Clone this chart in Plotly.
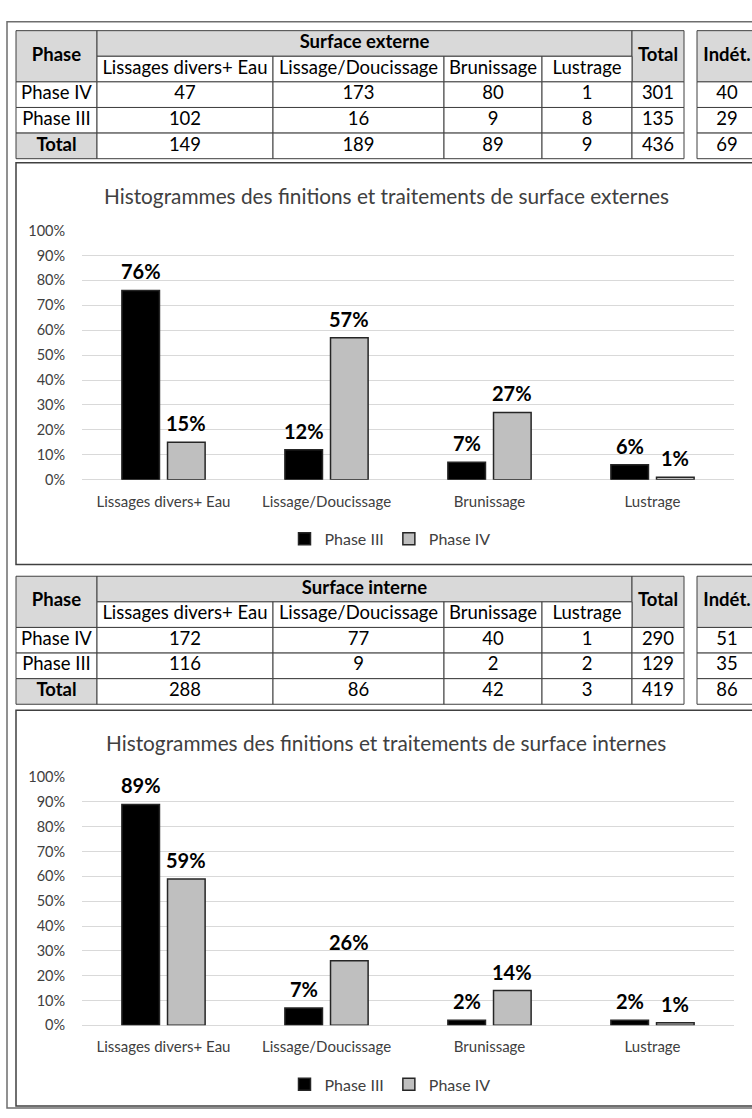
import plotly.graph_objects as go

W, H = 752, 1118

# ---------------- data ----------------
categories = ["Lissages divers+ Eau", "Lissage/Doucissage", "Brunissage", "Lustrage"]
row_labels = ["Phase IV", "Phase III", "Total"]
series_names = ["Phase III", "Phase IV"]
header_phase = "Phase"
header_total = "Total"
header_indet = "Indét."

# Surface externe table (rows: Phase IV, Phase III, Total)
ext_title = "Surface externe"
ext_lissages = [47, 102, 149]
ext_lissage_douc = [173, 16, 189]
ext_brunissage = [80, 9, 89]
ext_lustrage = [1, 8, 9]
ext_total = [301, 135, 436]
ext_indet = [40, 29, 69]

# Surface interne table
int_title = "Surface interne"
int_lissages = [172, 116, 288]
int_lissage_douc = [77, 9, 86]
int_brunissage = [40, 2, 42]
int_lustrage = [1, 2, 3]
int_total = [290, 129, 419]
int_indet = [51, 35, 86]

# Histogram percentages (as labelled on the bars)
ext_phase3 = [76, 12, 7, 6]
ext_phase4 = [15, 57, 27, 1]
int_phase3 = [89, 7, 2, 2]
int_phase4 = [59, 26, 14, 1]

y_tick_values = [0, 10, 20, 30, 40, 50, 60, 70, 80, 90, 100]
y_tick_labels = ["0%", "10%", "20%", "30%", "40%", "50%", "60%", "70%", "80%", "90%", "100%"]

title_ext = "Histogrammes des finitions et traitements de surface externes"
title_int = "Histogrammes des finitions et traitements de surface internes"

# ---------------- style / layout ----------------
FONT = "Lato"
GRAY = "#d9d9d9"
LINE = "#404040"
TXT = "#404040"
TABLE_FS = 18.5
col_edges = [16, 97, 273, 444, 542, 632, 684]
indet_edges = [697, 775]
ROW_H = 26

fig = go.Figure()
cell_shapes = []


def px(x):
    return x / W


def py(y):
    return 1 - y / H


def cell(x0, x1, y0, y1, fill):
    cell_shapes.append(dict(type="rect", xref="x3", yref="y3", x0=x0, x1=x1, y0=y0, y1=y1,
                            line=dict(color=LINE, width=1), fillcolor=fill, layer="below"))


def add_table(top, title, cols, total, indet):
    xs, ys, ts = [], [], []
    r = [top + i * ROW_H for i in range(6)]
    # Phase header (2 rows)
    cell(col_edges[0], col_edges[1], r[0], r[2], GRAY)
    xs.append((col_edges[0] + col_edges[1]) / 2); ys.append((r[0] + r[2]) / 2)
    ts.append("<b>" + header_phase + "</b>")
    # merged title
    cell(col_edges[1], col_edges[5], r[0], r[1], GRAY)
    xs.append((col_edges[1] + col_edges[5]) / 2); ys.append((r[0] + r[1]) / 2)
    ts.append("<b>" + title + "</b>")
    # Total / Indet headers
    cell(col_edges[5], col_edges[6], r[0], r[2], GRAY)
    xs.append((col_edges[5] + col_edges[6]) / 2); ys.append((r[0] + r[2]) / 2)
    ts.append("<b>" + header_total + "</b>")
    cell(indet_edges[0], indet_edges[1], r[0], r[2], GRAY)
    xs.append(indet_edges[0] + 30); ys.append((r[0] + r[2]) / 2)
    ts.append("<b>" + header_indet + "</b>")
    # sub headers
    for j, cat in enumerate(categories):
        a, b = col_edges[j + 1], col_edges[j + 2]
        cell(a, b, r[1], r[2], "white")
        xs.append((a + b) / 2); ys.append((r[1] + r[2]) / 2); ts.append(cat)
    # body rows
    for i, lab in enumerate(row_labels):
        y0, y1 = r[2 + i], r[3 + i]
        ym = (y0 + y1) / 2
        is_total = (i == len(row_labels) - 1)
        cell(col_edges[0], col_edges[1], y0, y1, GRAY if is_total else "white")
        xs.append((col_edges[0] + col_edges[1]) / 2); ys.append(ym)
        ts.append("<b>" + lab + "</b>" if is_total else lab)
        for j, col in enumerate(cols):
            a, b = col_edges[j + 1], col_edges[j + 2]
            cell(a, b, y0, y1, "white")
            xs.append((a + b) / 2); ys.append(ym); ts.append(str(col[i]))
        cell(col_edges[5], col_edges[6], y0, y1, "white")
        xs.append((col_edges[5] + col_edges[6]) / 2); ys.append(ym); ts.append(str(total[i]))
        cell(indet_edges[0], indet_edges[1], y0, y1, "white")
        xs.append(indet_edges[0] + 30); ys.append(ym); ts.append(str(indet[i]))
    fig.add_trace(go.Scatter(
        x=xs, y=ys, text=ts, mode="text", xaxis="x3", yaxis="y3",
        textposition="middle center", showlegend=False, hoverinfo="skip",
        textfont=dict(family=FONT, size=TABLE_FS, color="black"), cliponaxis=False,
    ))


# ---------------- charts ----------------
charts = [
    dict(xa="x", ya="y", p3=ext_phase3, p4=ext_phase4, legend="legend"),
    dict(xa="x2", ya="y2", p3=int_phase3, p4=int_phase4, legend="legend2"),
]
annotations = []
for ch in charts:
    for name, vals, color in [(series_names[0], ch["p3"], "black"),
                              (series_names[1], ch["p4"], "#bfbfbf")]:
        fig.add_trace(go.Bar(
            x=categories, y=vals, name=name, xaxis=ch["xa"], yaxis=ch["ya"],
            marker=dict(color=color, line=dict(color="#262626", width=1.5)),
            legend=ch["legend"], showlegend=True, hoverinfo="skip",
        ))
        offset = -22.75 if name == series_names[0] else 22.75
        for c, v in zip(categories, vals):
            annotations.append(dict(
                x=c, y=v, xref=ch["xa"], yref=ch["ya"], text="<b>%d%%</b>" % v,
                showarrow=False, xshift=offset, yshift=19, yanchor="middle",
                font=dict(family=FONT, size=20, color="black"),
            ))

add_table(22, ext_title, [ext_lissages, ext_lissage_douc, ext_brunissage, ext_lustrage],
          ext_total, ext_indet)
add_table(576, int_title, [int_lissages, int_lissage_douc, int_brunissage, int_lustrage],
          int_total, int_indet)

axis_common_x = dict(
    domain=[px(82), px(734)], showgrid=False, showline=False, zeroline=False,
    tickfont=dict(family=FONT, size=15, color=TXT), ticks="outside", ticklen=8,
    tickcolor="rgba(0,0,0,0)", fixedrange=True,
)
axis_common_y = dict(
    range=[0, 100], tickvals=y_tick_values, ticktext=y_tick_labels, showgrid=True,
    gridcolor="#d9d9d9", gridwidth=1, zeroline=True, zerolinecolor="#d9d9d9",
    zerolinewidth=1, showline=False,
    tickfont=dict(family=FONT, size=14.5, color=TXT), ticks="outside", ticklen=13,
    tickcolor="rgba(0,0,0,0)", fixedrange=True,
)
legend_common = dict(orientation="h", xanchor="center", yanchor="middle",
                     font=dict(family=FONT, size=16, color=TXT), bgcolor="rgba(0,0,0,0)",
                     itemwidth=30, tracegroupgap=0)

fig.update_layout(
    width=W, height=H, margin=dict(l=0, r=0, t=0, b=0, pad=0),
    paper_bgcolor="white", plot_bgcolor="rgba(0,0,0,0)",
    barmode="group", bargap=0.44, bargroupgap=0.176,
    xaxis=dict(**axis_common_x, anchor="y"),
    yaxis=dict(**axis_common_y, domain=[py(478), py(225)], anchor="x"),
    xaxis2=dict(**axis_common_x, anchor="y2"),
    yaxis2=dict(**axis_common_y, domain=[py(1032), py(780)], anchor="x2"),
    xaxis3=dict(domain=[0, 1], range=[0, W], visible=False, fixedrange=True, anchor="y3"),
    yaxis3=dict(domain=[0, 1], range=[H, 0], visible=False, fixedrange=True, anchor="x3"),
    legend=dict(**legend_common, x=px(390), y=py(538)),
    legend2=dict(**legend_common, x=px(390), y=py(1092)),
    showlegend=True,
)

annotations.append(dict(x=px(386), y=py(189), xref="paper", yref="paper", text=title_ext,
                        showarrow=False, font=dict(family=FONT, size=20.8, color=TXT),
                        xanchor="center", yanchor="middle"))
annotations.append(dict(x=px(386), y=py(745), xref="paper", yref="paper", text=title_int,
                        showarrow=False, font=dict(family=FONT, size=20.8, color=TXT),
                        xanchor="center", yanchor="middle"))
fig.update_layout(annotations=annotations)

frame_shapes = [
    dict(type="rect", xref="paper", yref="paper", x0=px(7), x1=px(775), y0=py(1116), y1=py(13),
         line=dict(color="#6e6e6e", width=1.5), fillcolor="rgba(0,0,0,0)", layer="below"),
    dict(type="rect", xref="paper", yref="paper", x0=px(16), x1=px(775), y0=py(564), y1=py(156),
         line=dict(color=LINE, width=1.5), fillcolor="rgba(0,0,0,0)", layer="below"),
    dict(type="rect", xref="paper", yref="paper", x0=px(16), x1=px(775), y0=py(1114), y1=py(712),
         line=dict(color=LINE, width=1.5), fillcolor="rgba(0,0,0,0)", layer="below"),
]
fig.update_layout(shapes=frame_shapes + cell_shapes)

post = ("document.documentElement.style.margin='0';"
        "document.body.style.margin='0';document.body.style.padding='0';"
        "document.body.style.overflow='hidden';"
        "var d=document.getElementById('{plot_id}');"
        "d.style.position='fixed';d.style.top='0px';d.style.left='0px';")

fig.write_html("out.html", config={"displayModeBar": False}, post_script=post)
